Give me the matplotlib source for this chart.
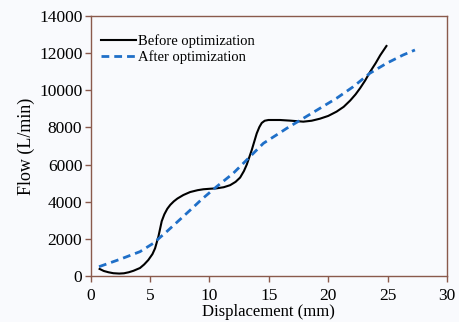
import matplotlib
matplotlib.use("Agg")
import matplotlib.pyplot as plt

before_x = [0.75, 1.1, 1.5, 1.9, 2.4, 2.8, 3.2, 3.6, 4.15, 4.5, 4.85, 5.2, 5.42, 5.7, 5.98, 6.2, 6.45, 6.7, 7.0, 7.3, 7.8, 8.37, 9.0, 9.49, 10.1, 10.6, 11.2, 11.74, 12.2, 12.58, 12.9, 13.14, 13.56, 13.98, 14.2, 14.4, 14.65, 14.96, 15.95, 16.8, 17.9, 18.6, 19.3, 20.0, 20.7, 21.3, 21.85, 22.3, 22.69, 23.1, 23.53, 24.0, 24.37, 24.9]
before_y = [380, 270, 200, 150, 130, 145, 200, 280, 430, 620, 860, 1180, 1490, 2120, 2950, 3320, 3620, 3830, 4020, 4170, 4360, 4520, 4620, 4670, 4700, 4720, 4780, 4890, 5070, 5300, 5650, 6000, 6785, 7680, 8020, 8240, 8360, 8400, 8400, 8365, 8310, 8360, 8470, 8620, 8850, 9110, 9450, 9780, 10120, 10520, 11000, 11470, 11880, 12385]

after_x = [0.7, 2.47, 4.15, 5.27, 6.4, 7.47, 8.4, 9.35, 10.6, 12.0, 13.28, 14.54, 15.95, 16.5, 17.9, 19.3, 20.7, 22.1, 23.5, 24.9, 26.3, 27.3]
after_y = [500, 900, 1310, 1760, 2390, 3015, 3560, 4130, 4810, 5530, 6340, 7145, 7720, 7950, 8490, 9030, 9570, 10190, 10915, 11450, 11900, 12170]

x_ticks = [0, 5, 10, 15, 20, 25, 30]
y_ticks = [0, 2000, 4000, 6000, 8000, 10000, 12000, 14000]

plt.rcParams['font.family'] = ['Liberation Serif', 'DejaVu Serif']
bg = '#f9fafd'
spine = '#8a5a4c'

fig = plt.figure(figsize=(4.59, 3.22), dpi=100, facecolor=bg)
ax = fig.add_axes([0.1976, 0.1429, 0.7763, 0.8074], facecolor=bg)

ax.plot(before_x, before_y, color='black', lw=1.5, label='Before optimization', solid_joinstyle='round')
ax.plot(after_x, after_y, color='#1f6fc8', lw=2.0, ls=(0, (2.8, 1.8)), label='After optimization')

ax.set_xlim(0, 30)
ax.set_ylim(0, 14000)
ax.set_xticks(x_ticks)
ax.set_yticks(y_ticks)
ax.tick_params(axis='both', direction='out', length=4, width=1, color=spine, labelsize=12.5)
ax.tick_params(axis='x', pad=5)
ax.tick_params(axis='y', pad=2)
for s in ax.spines.values():
    s.set_color(spine)
    s.set_linewidth(1)

ax.set_xlabel('Displacement (mm)', fontsize=12, labelpad=0)
ax.set_ylabel('Flow (L/min)', fontsize=13, labelpad=3)

leg = ax.legend(loc='upper left', bbox_to_anchor=(0.0, 0.97), frameon=False, fontsize=10.5,
                handlelength=2.4, handletextpad=0.15, labelspacing=0.2, borderaxespad=0.3)

fig.savefig('out.png', dpi=100, facecolor=bg)
